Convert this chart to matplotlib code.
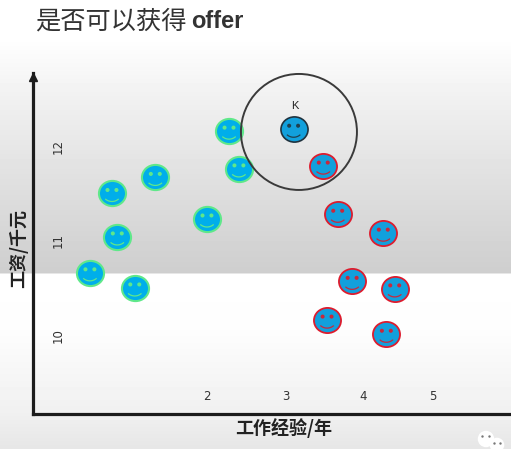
import numpy as np
import matplotlib
matplotlib.use("Agg")
import matplotlib.pyplot as plt
from matplotlib.path import Path
from matplotlib.transforms import Affine2D

# Data
green_x = [2.29, 1.32, 2.42, 0.75, 2.00, 0.82, 0.46, 1.05]
green_y = [12.18, 11.69, 11.78, 11.52, 11.25, 11.06, 10.68, 10.52]
red_x = [3.53, 3.72, 4.32, 3.91, 4.47, 3.58, 4.36]
red_y = [11.81, 11.30, 11.10, 10.59, 10.51, 10.18, 10.03]
k_x = [3.14]
k_y = [12.20]
circle_x = [3.21]
circle_y = [12.17]
x_ticks = [2.0, 3.04, 4.05, 4.97]
x_labels = ["2", "3", "4", "5"]
y_ticks = [12.02, 11.02, 10.02]
y_labels = ["12", "11", "10"]

W, H = 511, 449
fig = plt.figure(figsize=(W / 100, H / 100), dpi=100, facecolor="white")

# Slide background, in pixel space
bg = fig.add_axes([0, 0, 1, 1], zorder=0)
bg.set_xlim(0, W)
bg.set_ylim(H, 0)
bg.axis("off")
stops_y = [0, 38, 100, 180, 273, 274, 330, 413, 449]
stops_c = [255, 255, 240, 224, 206, 255, 253, 240, 230]
grad = np.interp(np.arange(H) + 0.5, stops_y, stops_c) / 255
bg.imshow(grad[:, None], cmap="gray", vmin=0, vmax=1, aspect="auto",
          extent=(0, W, H, 0), interpolation="nearest")
bg.set_xlim(0, W)
bg.set_ylim(H, 0)
bg.scatter([486, 497], [439, 445], s=[140, 110], c="white", linewidths=0, zorder=3)
bg.scatter([482, 489, 494, 500], [436, 436, 443, 443], s=3, c="#777777", linewidths=0, zorder=4)

# Main axes
L, R, T, B = 33, 511, 73, 413.5
ax = fig.add_axes([L / W, 1 - B / H, (R - L) / W, (B - T) / H], zorder=1)
ax.patch.set_alpha(0)
ax.set_xlim(-0.289, 6.0)
ax.set_ylim(9.19, 12.794)
for s in ("top", "right"):
    ax.spines[s].set_visible(False)
for s in ("left", "bottom"):
    ax.spines[s].set_linewidth(2.3)
    ax.spines[s].set_color("#1c1c1c")
ax.plot([0], [1 - 4 / (B - T)], marker="^", ms=6, color="#1c1c1c", transform=ax.transAxes,
        clip_on=False, zorder=5)

ax.set_xticks(x_ticks, x_labels)
ax.set_yticks(y_ticks, y_labels)
ax.tick_params(axis="x", length=0, pad=-17, labelsize=8.5, labelcolor="#333333")
ax.tick_params(axis="y", length=0, pad=-22.5, labelsize=8.5, labelcolor="#333333")
for t in ax.get_yticklabels():
    t.set_rotation(90)
    t.set_va("center")

cjk = ["Noto Sans CJK SC", "DejaVu Sans"]
ax.set_xlabel("工作经验/年", family=cjk, fontsize=13, fontweight="bold", color="#222222")
ax.xaxis.set_label_coords((284 - L) / (R - L), -(428 - B) / (B - T))
ax.xaxis.label.set_va("center")
ax.set_ylabel("工资/千元", family=cjk, fontsize=13, fontweight="bold", color="#222222")
ax.yaxis.set_label_coords(-(L - 19) / (R - L), (B - 249) / (B - T))
ax.yaxis.label.set_va("center")

# Smiley markers
circ = Path.unit_circle()
face_path = circ.transformed(Affine2D().scale(1, 0.93))
eye = Affine2D().scale(0.15)
eyes_path = Path.make_compound_path(
    circ.transformed(eye + Affine2D().translate(-0.33, 0.25)),
    circ.transformed(eye + Affine2D().translate(0.33, 0.25)),
)
eyes_scale = np.abs(eyes_path.vertices).max()
arc = np.radians(np.linspace(270 - 42, 270 + 42, 24))
mouth_xy = np.column_stack([0.74 * np.cos(arc), 0.74 * np.sin(arc) + 0.14])
mouth_path = Path(mouth_xy)
mouth_scale = np.abs(mouth_xy).max()

FACE_S = 19.5 ** 2


def faces(xs, ys, edge, feature, lw, body):
    ax.scatter(xs, ys, s=FACE_S, marker=face_path, facecolor=body, edgecolor=edge,
               linewidths=lw, zorder=3, clip_on=False)
    ax.scatter(xs, ys, s=FACE_S * eyes_scale ** 2, marker=eyes_path, facecolor=feature,
               edgecolor="none", linewidths=0, zorder=4, clip_on=False)
    ax.scatter(xs, ys, s=FACE_S * mouth_scale ** 2, marker=mouth_path, facecolor="none",
               edgecolor=feature, linewidths=0.9, zorder=4, clip_on=False)


faces(green_x, green_y, "#5fe88a", "#5fe88a", 1.5, "#00aeea")
faces(red_x, red_y, "#dd1c2e", "#c8283c", 1.3, "#12a0dc")
faces(k_x, k_y, "#20333f", "#20404f", 1.2, "#12a0dc")

ax.scatter(circle_x, circle_y, s=(116 * 0.72) ** 2, facecolor="none", edgecolor="#3a3a3a",
           linewidths=1.4, zorder=5, clip_on=False)
ax.text(k_x[0] + 0.01, 12.44, "K", fontsize=8, ha="center", va="center", color="#222222",
        family="Liberation Sans")

# Title
fig.text(35 / W, 1 - 21 / H, "是否可以获得", family=cjk, fontsize=18.2, color="#333333",
         ha="left", va="center", fontweight="light")
fig.text(191 / W, 1 - 21 / H, "offer", family="Liberation Sans", fontsize=17, color="#333333",
         ha="left", va="center", fontweight="bold")

fig.savefig("out.png", dpi=100, facecolor=fig.get_facecolor())
